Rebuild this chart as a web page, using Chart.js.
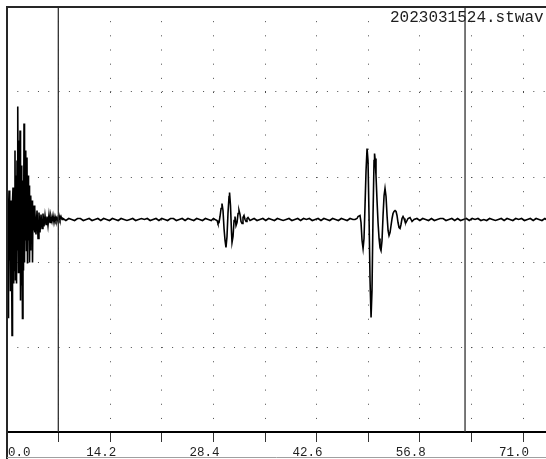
<!DOCTYPE html>
<html>
<head>
<meta charset="utf-8">
<script src="https://cdn.jsdelivr.net/npm/chart.js@4"></script>
<style>
  html, body { margin: 0; padding: 0; background: #fff; }
  #wrap { width: 546px; height: 459px; }
</style>
</head>
<body>
<div id="wrap"><canvas id="c" width="546" height="459"></canvas></div>
<script>
// Recording name shown in the top-right corner
const fileName = '2023031524.stwav';

// Time axis: ticks every 7.1, labels on every second tick
const xTickValues = [0, 7.1, 14.2, 21.3, 28.4, 35.5, 42.6, 49.7, 56.8, 63.9, 71.0];
const xTickLabels = ['0.0', '', '14.2', '', '28.4', '', '42.6', '', '56.8', '', '71.0'];
const xRange = [0, 74.16];

// Amplitude axis: five divisions
const yGridValues = [-212.5, -127.5, -42.5, 42.5, 127.5, 212.5];
const yRange = [-212.5, 212.5];

// Two measurement cursors
const cursorTimes = [7.06, 63.02];

// Waveform samples as [time, amplitude]
const onsetBurst = [
  [0.00, 0], [0.07, -31], [0.14, -98], [0.21, 9], [0.28, 29], [0.34, -41], [0.41, 14], [0.48, -71],
  [0.55, 19], [0.62, -21], [0.69, -116], [0.76, 19], [0.83, 32], [0.89, -64], [0.96, 24], [1.03, -51],
  [1.10, 69], [1.17, -61], [1.24, 44], [1.31, -64], [1.38, 59], [1.45, -31], [1.51, 113], [1.58, -53],
  [1.65, 79], [1.72, -41], [1.79, 89], [1.86, -81], [1.93, 54], [2.00, -66], [2.06, 29], [2.13, -99],
  [2.20, 39], [2.27, -51], [2.34, 96], [2.41, -43], [2.48, 69], [2.55, -21], [2.61, 49], [2.68, -31],
  [2.75, 62], [2.82, -44], [2.89, 44], [2.96, -21], [3.03, 34], [3.10, -43], [3.17, 19], [3.23, -31],
  [3.30, 24], [3.37, -16], [3.44, 19], [3.51, -43], [3.58, 14], [3.65, -11], [3.72, 14], [3.78, -13],
  [3.85, 11], [3.99, -15], [4.13, 9], [4.27, -19], [4.40, 7], [4.54, -13], [4.68, 5], [4.82, -9],
  [4.95, 6], [5.09, -7], [5.23, 4], [5.37, -5], [5.50, 3], [5.64, -6], [5.78, 5], [5.92, -3],
  [6.05, 3], [6.19, -2], [6.33, 4], [6.47, -3], [6.61, 3], [6.74, -1], [6.88, 2], [7.02, -2],
  [7.16, 4], [7.29, 0], [7.43, 3], [7.57, 0]
];

const quietA = [
  [7.7, 1], [8.1, -1], [8.5, 1], [8.9, 0], [9.3, -1], [9.7, 1], [10.1, 1], [10.5, -1], [10.9, 0],
  [11.3, 1], [11.7, -1], [12.1, 0], [12.5, 1], [12.9, -1], [13.3, 1], [13.7, 0], [14.1, -1], [14.5, 1],
  [14.9, 0], [15.3, -1], [15.7, 1], [16.1, 0], [16.5, -1], [16.9, 0], [17.3, 1], [17.7, -1], [18.1, 0],
  [18.5, 1], [18.9, 0], [19.3, 1], [19.7, -1], [20.1, 0], [20.5, 1], [20.9, -1], [21.3, 1], [21.7, 0],
  [22.1, -1], [22.5, 1], [22.9, 1], [23.3, -1], [23.7, 0], [24.1, 1], [24.5, -1], [24.9, 1], [25.3, 0],
  [25.7, -1], [26.1, 1], [26.5, 0], [26.9, -1], [27.3, 1], [27.7, 0], [28.1, -1], [28.4, 1]
];

const echoOne = [
  [28.62, 0], [28.90, -1], [29.03, -4], [29.17, -3], [29.31, 3], [29.45, 11], [29.58, 16], [29.72, 9],
  [29.86, -9], [30.00, -21], [30.13, -28], [30.27, -17], [30.41, 7], [30.55, 23], [30.62, 27], [30.75, 14],
  [30.89, -13], [30.96, -23], [31.10, -17], [31.24, -1], [31.37, 3], [31.51, -6], [31.65, -3], [31.79, 6],
  [31.92, 9], [32.06, 5], [32.20, -2], [32.34, -4], [32.47, 2], [32.61, 4], [32.75, 0], [32.89, -2],
  [33.02, 1], [33.16, 2], [33.44, -1], [33.71, 0]
];

const quietB = [
  [34.0, 1], [34.4, -1], [34.8, 0], [35.2, 1], [35.6, -1], [36.0, 1], [36.4, 0], [36.8, -1], [37.2, 1],
  [37.6, 0], [38.0, -1], [38.4, 0], [38.8, 1], [39.2, -1], [39.6, 0], [40.0, 1], [40.4, -1], [40.8, 1],
  [41.2, 0], [41.6, 1], [42.0, -1], [42.4, 0], [42.8, 1], [43.2, -1], [43.6, 1], [44.0, 0], [44.4, -1],
  [44.8, 1], [45.2, 0], [45.6, -1], [46.0, 1], [46.4, 0], [46.8, -1], [47.2, 1], [47.6, 0]
];

const echoTwo = [
  [47.88, 0], [48.16, 1], [48.30, 3], [48.57, 4], [48.71, -3], [48.85, -21], [48.99, -29], [49.12, -19],
  [49.26, 14], [49.40, 49], [49.54, 71], [49.67, 59], [49.81, 4], [49.95, -61], [50.09, -98], [50.22, -71],
  [50.36, 4], [50.50, 59], [50.57, 66], [50.64, 61], [50.77, 44], [50.91, 19], [51.05, -3], [51.19, -19],
  [51.32, -28], [51.46, -31], [51.60, -21], [51.74, 4], [51.88, 24], [52.01, 31], [52.15, 23], [52.29, 4],
  [52.43, -11], [52.56, -16], [52.70, -13], [52.84, -6], [52.98, 1], [53.11, 6], [53.25, 8], [53.39, 9],
  [53.53, 8], [53.66, 4], [53.80, -3], [53.94, -8], [54.08, -9], [54.21, -5], [54.35, 1], [54.49, 3],
  [54.63, 1], [54.76, -2], [54.90, -3], [55.18, 1], [55.45, 2], [55.73, -2], [56.00, 0]
];

const quietC = [
  [56.4, 1], [56.8, -1], [57.2, 1], [57.6, 0], [58.0, -1], [58.4, 1], [58.8, -1], [59.2, 0], [59.6, 1],
  [60.0, 1], [60.4, -1], [60.8, 0], [61.2, 1], [61.6, -1], [62.0, 1], [62.4, -1], [62.8, 0], [63.2, 1],
  [63.6, -1], [64.0, 1], [64.4, 0], [64.8, 1], [65.2, -1], [65.6, 0], [66.0, -1], [66.4, 1], [66.8, 0],
  [67.2, -1], [67.6, 0], [68.0, 1], [68.4, -1], [68.8, 1], [69.2, 0], [69.6, -1], [70.0, 1], [70.4, 0],
  [70.8, 1], [71.2, -1], [71.6, 0], [72.0, 1], [72.4, -1], [72.8, 1], [73.2, 0], [73.6, -1], [74.0, 1],
  [74.2, 0]
];

const traceSegments = [onsetBurst, quietA, echoOne, quietB, echoTwo, quietC];
const tracePoints = traceSegments.flat().map(([t, a]) => ({ x: t, y: a }));

const cursorSets = cursorTimes.map(t => ({
  data: [{ x: t, y: yRange[0] }, { x: t, y: yRange[1] }],
  showLine: true,
  borderColor: '#303030',
  borderWidth: 1.3,
  pointRadius: 0,
  fill: false
}));

// Outer frame, title text and tick labels
const decorations = {
  id: 'decorations',
  beforeDatasetsDraw(chart) {
    const { ctx, chartArea } = chart;
    ctx.save();
    ctx.font = '16px "Liberation Mono", monospace';
    ctx.fillStyle = '#1e1e1e';
    ctx.textAlign = 'left';
    ctx.textBaseline = 'alphabetic';
    ctx.fillText(fileName, 390, chartArea.top + 15);
    ctx.restore();
  },
  afterDraw(chart) {
    const { ctx, chartArea, width, height } = chart;
    const xs = chart.scales.x;
    ctx.save();
    // frame
    ctx.strokeStyle = '#262626';
    ctx.lineWidth = 2;
    ctx.beginPath();
    ctx.moveTo(chartArea.left, height);
    ctx.lineTo(chartArea.left, chartArea.top);
    ctx.lineTo(width, chartArea.top);
    ctx.stroke();
    ctx.strokeStyle = '#a0a0a0';
    ctx.lineWidth = 1;
    ctx.beginPath();
    ctx.moveTo(chartArea.left, height - 1.5);
    ctx.lineTo(width, height - 1.5);
    ctx.stroke();
    // labels
    ctx.font = '12.5px "Liberation Mono", monospace';
    ctx.fillStyle = '#1e1e1e';
    ctx.textAlign = 'left';
    ctx.textBaseline = 'alphabetic';
    xTickValues.forEach((v, i) => {
      const txt = xTickLabels[i];
      if (!txt) return;
      const w = ctx.measureText(txt).width;
      let left = xs.getPixelForValue(v) - 9 - w / 2;
      if (left < chartArea.left + 1) left = chartArea.left + 1;
      ctx.fillText(txt, left, height - 3);
    });
    ctx.restore();
  }
};

new Chart(document.getElementById('c'), {
  type: 'scatter',
  data: {
    datasets: [
      ...cursorSets,
      {
        data: tracePoints,
        showLine: true,
        borderColor: '#000',
        borderWidth: 1.6,
        pointRadius: 0,
        tension: 0,
        fill: false
      }
    ]
  },
  options: {
    responsive: false,
    animation: false,
    devicePixelRatio: 1,
    layout: { padding: { left: 7, top: 7, right: 0, bottom: 17 } },
    plugins: { legend: { display: false }, tooltip: { enabled: false } },
    scales: {
      x: {
        type: 'linear',
        position: 'bottom',
        min: xRange[0],
        max: xRange[1],
        afterBuildTicks: s => { s.ticks = xTickValues.map(v => ({ value: v })); },
        ticks: { display: false },
        grid: {
          display: true,
          color: '#4a4a4a',
          lineWidth: 1,
          drawTicks: true,
          tickLength: 10,
          tickColor: '#333',
          tickWidth: 1
        },
        border: { display: true, color: '#000', width: 2, dash: [1, 13.17] }
      },
      y: {
        type: 'linear',
        position: 'left',
        min: yRange[0],
        max: yRange[1],
        afterBuildTicks: s => { s.ticks = yGridValues.map(v => ({ value: v })); },
        ticks: { display: false },
        grid: { display: true, color: '#4a4a4a', lineWidth: 1, drawTicks: false },
        border: { display: false, dash: [1, 9.32] }
      }
    }
  },
  plugins: [decorations]
});
</script>
</body>
</html>
